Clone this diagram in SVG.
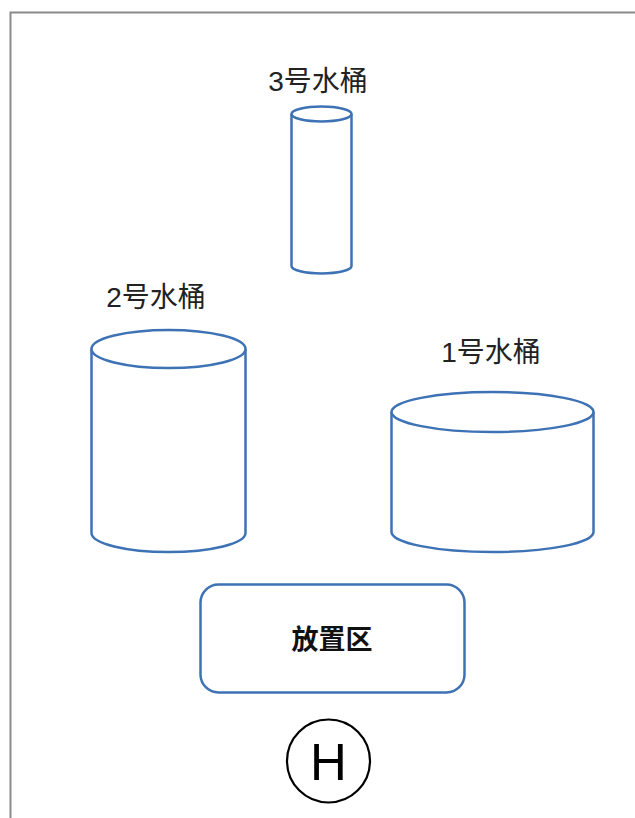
<svg xmlns="http://www.w3.org/2000/svg" width="635" height="818" viewBox="0 0 635 818">
<style>
.cyl{fill:#fff;stroke:#3d72b4;stroke-width:2.5}
.lbl{font-family:"Liberation Sans","Noto Sans CJK SC",sans-serif;font-size:28px;fill:#222;text-anchor:middle}
</style>
<rect width="635" height="818" fill="#fff"/>
<path d="M10.5,818 V12.5 H635" fill="none" stroke="#8a8a8a" stroke-width="2"/>
<g id="bucket3">
<path class="cyl" d="M291.5,114 V266 A30,7.5 0 0 0 351.5,266 V114"/>
<ellipse class="cyl" cx="321.5" cy="114" rx="30" ry="7.5"/>
<text class="lbl" x="318" y="91">3号水桶</text>
</g>
<g id="bucket2">
<path class="cyl" d="M91.5,349 V533 A77,19 0 0 0 245.5,533 V349"/>
<ellipse class="cyl" cx="168.5" cy="349" rx="77" ry="19"/>
<text class="lbl" x="156" y="307">2号水桶</text>
</g>
<g id="bucket1">
<path class="cyl" d="M391.5,412 V532 A101,20 0 0 0 593.5,532 V412"/>
<ellipse class="cyl" cx="492.5" cy="412" rx="101" ry="20"/>
<text class="lbl" x="491" y="362">1号水桶</text>
</g>
<g id="area">
<rect x="200.5" y="584.5" width="264" height="108" rx="18" fill="#fff" stroke="#3d72b4" stroke-width="2.5"/>
<text x="332" y="649" font-family="Noto Sans CJK SC,sans-serif" font-size="27" font-weight="bold" fill="#111" text-anchor="middle">放置区</text>
</g>
<g id="helipad">
<circle cx="328.5" cy="761" r="41.5" fill="#fff" stroke="#000" stroke-width="2.2"/>
<text x="328.5" y="780" font-family="Liberation Sans,sans-serif" font-size="51" fill="#000" text-anchor="middle">H</text>
</g>
<g id="connectors"/>
</svg>
